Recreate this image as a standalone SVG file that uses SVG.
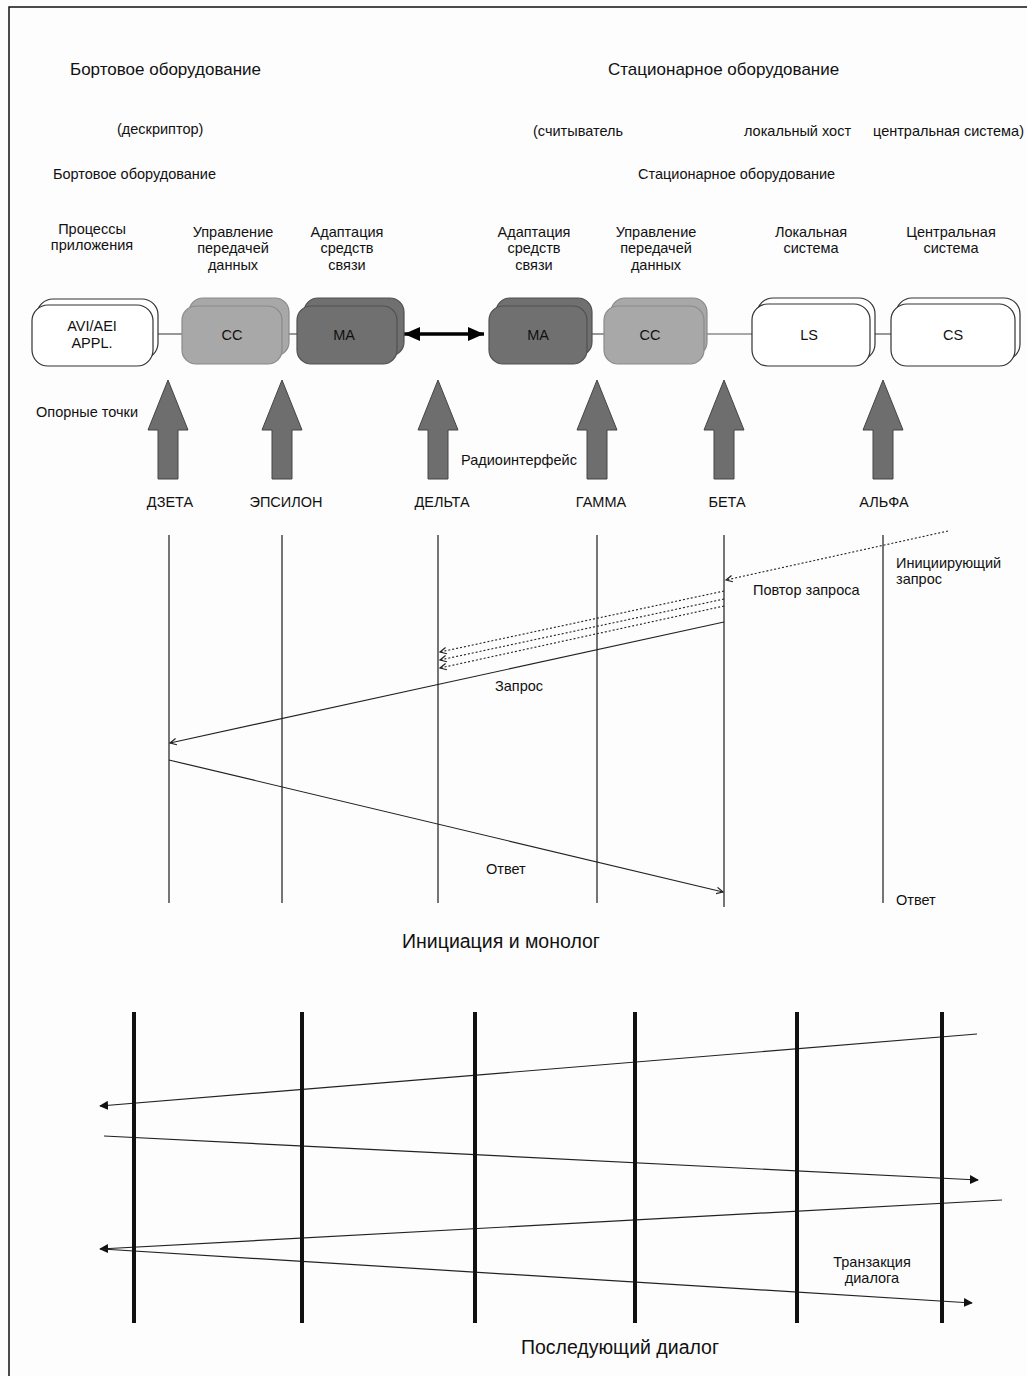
<svg xmlns="http://www.w3.org/2000/svg" width="1027" height="1376" viewBox="0 0 1027 1376">
  <style>
    text { font-family: "Liberation Sans", Arial, sans-serif; fill: #111; }
    .h1 { font-size: 17px; }
    .h2 { font-size: 14.5px; }
    .lbl { font-size: 14.5px; text-anchor: middle; }
    .box { font-size: 14.5px; text-anchor: middle; }
    .cap { font-size: 19.5px; text-anchor: middle; }
    .white { fill: #fff; stroke: #333; stroke-width: 1.2; }
    .cc { fill: #a8a8a8; stroke: #8a8a8a; stroke-width: 1.2; }
    .ma { fill: #707070; stroke: #505050; stroke-width: 1.2; }
    .link { stroke: #555; stroke-width: 1.2; fill: none; }
    .ref { fill: #6e6e6e; stroke: #444; stroke-width: 1; }
    .life { stroke: #666; stroke-width: 1.8; }
    .thick { stroke: #111; stroke-width: 4; }
    .msg { stroke: #222; stroke-width: 1.2; fill: none; }
    .dot { stroke: #222; stroke-width: 1.1; stroke-dasharray: 2 2; fill: none; }
  </style>
  <defs>
    <marker id="open" viewBox="0 0 10 10" refX="9" refY="5" markerWidth="8" markerHeight="8" orient="auto" markerUnits="userSpaceOnUse">
      <path d="M1,1 L9,5 L1,9" fill="none" stroke="#222" stroke-width="1.5"/>
    </marker>
    <marker id="solid" viewBox="0 0 10 10" refX="9" refY="5" markerWidth="9" markerHeight="9" orient="auto" markerUnits="userSpaceOnUse">
      <path d="M0,0 L10,5 L0,10 Z" fill="#111"/>
    </marker>
    <marker id="big" viewBox="0 0 10 10" refX="10" refY="5" markerWidth="16" markerHeight="14" orient="auto-start-reverse" markerUnits="userSpaceOnUse" preserveAspectRatio="none">
      <path d="M0,0 L10,5 L0,10 Z" fill="#000"/>
    </marker>
    <path id="refArrow" d="M0,0 L20,50 L10,50 L10,99 L-10,99 L-10,50 L-20,50 Z"/>
  </defs>

  <rect width="1027" height="1376" fill="#fdfdfd"/>
  <!-- outer frame -->
  <rect x="9" y="7" width="1040" height="1400" fill="none" stroke="#111" stroke-width="1.5"/>

  <!-- headings -->
  <g id="headings">
    <text class="h1" x="70" y="75">Бортовое оборудование</text>
    <text class="h1" x="608" y="75">Стационарное оборудование</text>
    <text class="h2" x="117" y="134">(дескриптор)</text>
    <text class="h2" x="533" y="136">(считыватель</text>
    <text class="h2" x="744" y="136">локальный хост</text>
    <text class="h2" x="873" y="136">центральная система)</text>
    <text class="h2" x="53" y="179">Бортовое оборудование</text>
    <text class="h2" x="638" y="179">Стационарное оборудование</text>
  </g>

  <!-- layer titles -->
  <g id="layer-titles">
    <text class="lbl" x="92" y="234">Процессы</text>
    <text class="lbl" x="92" y="250">приложения</text>
    <text class="lbl" x="233" y="237">Управление</text>
    <text class="lbl" x="233" y="253">передачей</text>
    <text class="lbl" x="233" y="270">данных</text>
    <text class="lbl" x="347" y="237">Адаптация</text>
    <text class="lbl" x="347" y="253">средств</text>
    <text class="lbl" x="347" y="270">связи</text>
    <text class="lbl" x="534" y="237">Адаптация</text>
    <text class="lbl" x="534" y="253">средств</text>
    <text class="lbl" x="534" y="270">связи</text>
    <text class="lbl" x="656" y="237">Управление</text>
    <text class="lbl" x="656" y="253">передачей</text>
    <text class="lbl" x="656" y="270">данных</text>
    <text class="lbl" x="811" y="237">Локальная</text>
    <text class="lbl" x="811" y="253">система</text>
    <text class="lbl" x="951" y="237">Центральная</text>
    <text class="lbl" x="951" y="253">система</text>
  </g>

  <!-- links between the stacks -->
  <g id="links">
    <line class="link" x1="153" y1="334" x2="182" y2="334"/>
    <line class="link" x1="282" y1="334" x2="297" y2="334"/>
    <line class="link" x1="587" y1="334" x2="604" y2="334"/>
    <line class="link" x1="704" y1="334" x2="752" y2="334"/>
    <line class="link" x1="870" y1="334" x2="891" y2="334"/>
    <line x1="404" y1="334" x2="484" y2="334" stroke="#000" stroke-width="3.5" marker-start="url(#big)" marker-end="url(#big)"/>
  </g>

  <!-- stacked entity boxes -->
  <g id="node-avi">
    <rect class="white" x="37" y="299" width="121" height="60" rx="16"/>
    <rect class="white" x="32" y="305" width="121" height="61" rx="16"/>
    <text class="box" x="92" y="331">AVI/AEI</text>
    <text class="box" x="92" y="348">APPL.</text>
  </g>
  <g id="node-cc-left">
    <rect class="cc" x="189" y="298" width="100" height="58" rx="14"/>
    <rect class="cc" x="182" y="306" width="100" height="58" rx="14"/>
    <text class="box" x="232" y="340">CC</text>
  </g>
  <g id="node-ma-left">
    <rect class="ma" x="304" y="298" width="100" height="58" rx="14"/>
    <rect class="ma" x="297" y="306" width="100" height="58" rx="14"/>
    <text class="box" x="344" y="340">MA</text>
  </g>
  <g id="node-ma-right">
    <rect class="ma" x="496" y="298" width="96" height="58" rx="14"/>
    <rect class="ma" x="489" y="306" width="98" height="58" rx="14"/>
    <text class="box" x="538" y="340">MA</text>
  </g>
  <g id="node-cc-right">
    <rect class="cc" x="611" y="298" width="96" height="58" rx="14"/>
    <rect class="cc" x="604" y="306" width="100" height="58" rx="14"/>
    <text class="box" x="650" y="340">CC</text>
  </g>
  <g id="node-ls">
    <rect class="white" x="757" y="298" width="118" height="62" rx="16"/>
    <rect class="white" x="752" y="304" width="118" height="62" rx="16"/>
    <text class="box" x="809" y="340">LS</text>
  </g>
  <g id="node-cs">
    <rect class="white" x="896" y="298" width="124" height="62" rx="16"/>
    <rect class="white" x="891" y="304" width="124" height="62" rx="16"/>
    <text class="box" x="953" y="340">CS</text>
  </g>

  <!-- reference points -->
  <g id="reference-points">
    <text class="h2" x="36" y="417">Опорные точки</text>
    <use href="#refArrow" class="ref" x="168" y="380"/>
    <use href="#refArrow" class="ref" x="282" y="380"/>
    <use href="#refArrow" class="ref" x="438" y="380"/>
    <use href="#refArrow" class="ref" x="597" y="380"/>
    <use href="#refArrow" class="ref" x="724" y="380"/>
    <use href="#refArrow" class="ref" x="883" y="380"/>
    <text class="h2" x="461" y="465">Радиоинтерфейс</text>
    <text class="lbl" x="170" y="507">ДЗЕТА</text>
    <text class="lbl" x="286" y="507">ЭПСИЛОН</text>
    <text class="lbl" x="442" y="507">ДЕЛЬТА</text>
    <text class="lbl" x="601" y="507">ГАММА</text>
    <text class="lbl" x="727" y="507">БЕТА</text>
    <text class="lbl" x="884" y="507">АЛЬФА</text>
  </g>

  <!-- lifelines: initiation and monologue -->
  <g id="lifelines">
    <line class="life" x1="169" y1="535" x2="169" y2="903"/>
    <line class="life" x1="282" y1="535" x2="282" y2="903"/>
    <line class="life" x1="438" y1="535" x2="438" y2="903"/>
    <line class="life" x1="597" y1="535" x2="597" y2="903"/>
    <line class="life" x1="724" y1="535" x2="724" y2="907"/>
    <line class="life" x1="883" y1="535" x2="883" y2="903"/>
  </g>

  <g id="connectors">
    <!-- initiating request and repeats -->
    <line class="dot" x1="948" y1="531" x2="726" y2="580" marker-end="url(#open)"/>
    <line class="dot" x1="724" y1="591" x2="440" y2="652" marker-end="url(#open)"/>
    <line class="dot" x1="724" y1="599" x2="440" y2="660" marker-end="url(#open)"/>
    <line class="dot" x1="724" y1="606" x2="440" y2="668" marker-end="url(#open)"/>
    <!-- request / response -->
    <line class="msg" x1="724" y1="622" x2="170" y2="743" marker-end="url(#open)"/>
    <line class="msg" x1="169" y1="760" x2="723" y2="892" marker-end="url(#open)"/>

    <!-- subsequent dialogue -->
    <line class="msg" x1="977" y1="1034" x2="100" y2="1106" marker-end="url(#solid)"/>
    <line class="msg" x1="104" y1="1136" x2="978" y2="1180" marker-end="url(#solid)"/>
    <line class="msg" x1="1002" y1="1200" x2="100" y2="1249" marker-end="url(#solid)"/>
    <line class="msg" x1="102" y1="1249" x2="972" y2="1303" marker-end="url(#solid)"/>
  </g>

  <g id="message-labels">
    <text class="h2" x="896" y="568">Инициирующий</text>
    <text class="h2" x="896" y="584">запрос</text>
    <text class="h2" x="753" y="595">Повтор запроса</text>
    <text class="h2" x="495" y="691">Запрос</text>
    <text class="h2" x="486" y="874">Ответ</text>
    <text class="h2" x="896" y="905">Ответ</text>
    <text class="cap" x="501" y="948">Инициация и монолог</text>
  </g>

  <!-- lifelines: subsequent dialogue -->
  <g id="dialogue-lifelines">
    <line class="thick" x1="134" y1="1012" x2="134" y2="1323"/>
    <line class="thick" x1="302" y1="1012" x2="302" y2="1323"/>
    <line class="thick" x1="475" y1="1012" x2="475" y2="1323"/>
    <line class="thick" x1="635" y1="1012" x2="635" y2="1323"/>
    <line class="thick" x1="797" y1="1012" x2="797" y2="1323"/>
    <line class="thick" x1="942" y1="1012" x2="942" y2="1323"/>
  </g>

  <g id="dialogue-labels">
    <text class="lbl" x="872" y="1267">Транзакция</text>
    <text class="lbl" x="872" y="1283">диалога</text>
    <text class="cap" x="620" y="1354">Последующий диалог</text>
  </g>
</svg>
